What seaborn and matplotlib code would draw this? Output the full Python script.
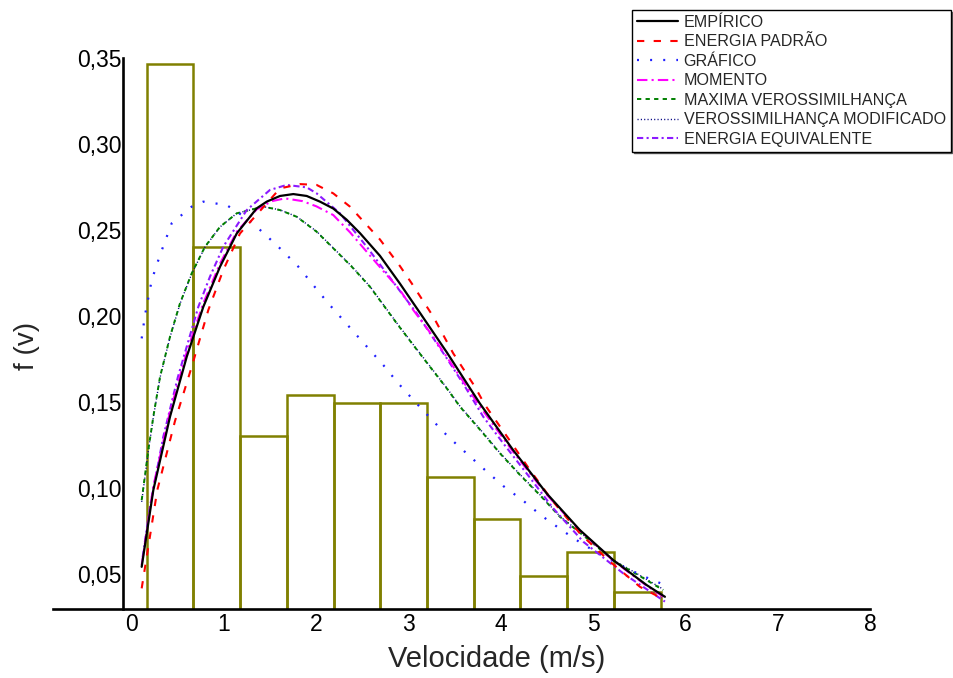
import numpy as np
import pandas as pd
import matplotlib
matplotlib.use("Agg")
import matplotlib.pyplot as plt
import seaborn as sns
from matplotlib.ticker import FixedLocator, FuncFormatter

# ---------------- data ----------------
bin_edges = [0.162, 0.668, 1.174, 1.680, 2.187, 2.693, 3.199, 3.706, 4.212, 4.718, 5.225, 5.731]
bin_heights = [0.3465, 0.2403, 0.1302, 0.1541, 0.1494, 0.1494, 0.1066, 0.0822, 0.0488, 0.0630, 0.0394]

emp_v = [0.108, 0.234, 0.415, 0.596, 0.776, 0.957, 1.138, 1.354, 1.463, 1.607, 1.751, 1.896, 2.040,
         2.184, 2.329, 2.473, 2.690, 2.907, 3.051, 3.124, 3.413, 3.772, 4.134, 4.496, 4.856, 5.218, 5.580, 5.778]
emp_f = [0.0542, 0.0988, 0.1415, 0.1763, 0.2054, 0.2287, 0.2480, 0.2626, 0.2665, 0.2698, 0.2709, 0.2698, 0.2665,
         0.2625, 0.2560, 0.2482, 0.2350, 0.2188, 0.2075, 0.2018, 0.1790, 0.1492, 0.1220, 0.0969, 0.0756, 0.0581,
         0.0436, 0.0368]

pad_v = [0.108, 0.277, 0.469, 0.650, 0.830, 0.992, 1.173, 1.463, 1.607, 1.823, 2.004, 2.184, 2.365, 2.690,
         2.907, 3.034, 3.268, 3.484, 3.719, 3.828, 4.080, 4.315, 4.568, 4.856, 5.164, 5.507, 5.778]
pad_f = [0.0417, 0.0988, 0.1390, 0.1705, 0.2035, 0.2267, 0.2480, 0.2655, 0.2742, 0.2767, 0.2762, 0.2713, 0.2636, 0.2445,
         0.2290, 0.2190, 0.1996, 0.1783, 0.1589, 0.1483, 0.1289, 0.1105, 0.0920, 0.0737, 0.0581, 0.0426, 0.0349]

graf_v = [0.108, 0.144, 0.217, 0.307, 0.433, 0.650, 0.776, 1.029, 1.246, 1.426, 1.625, 1.805, 1.967, 2.130,
          2.221, 2.480, 2.726, 2.888, 3.069, 3.250, 3.430, 3.828, 4.026, 4.243, 4.442, 4.659, 4.875, 5.092,
          5.326, 5.561, 5.778]
graf_f = [0.1870, 0.2006, 0.2209, 0.2355, 0.2539, 0.2636, 0.2665, 0.2645, 0.2568, 0.2484, 0.2384, 0.2287, 0.2180, 0.2074,
          0.2019, 0.1863, 0.1715, 0.1609, 0.1502, 0.1399, 0.1298, 0.1105, 0.1012, 0.0926, 0.0839, 0.0756, 0.0678, 0.0610,
          0.0543, 0.0484, 0.0436]

mom_v = [0.108, 0.234, 0.415, 0.596, 0.776, 0.957, 1.138, 1.354, 1.520, 1.660, 1.850, 2.000, 2.184, 2.365,
         2.546, 2.726, 2.907, 3.051, 3.232, 3.413, 3.772, 4.134, 4.496, 4.856, 5.218, 5.580, 5.778]
mom_f = [0.0553, 0.1010, 0.1445, 0.1790, 0.2075, 0.2305, 0.2490, 0.2620, 0.2668, 0.2684, 0.2668, 0.2638, 0.2587, 0.2487,
         0.2374, 0.2262, 0.2151, 0.2035, 0.1905, 0.1763, 0.1475, 0.1210, 0.0962, 0.0752, 0.0578, 0.0432, 0.0362]

mv_v = [0.108, 0.180, 0.234, 0.307, 0.415, 0.523, 0.650, 0.794, 0.957, 1.138, 1.426, 1.607, 1.788, 2.004,
        2.184, 2.384, 2.582, 2.871, 3.051, 3.232, 3.413, 3.557, 3.792, 3.990, 4.207, 4.423, 4.640, 4.911,
        5.236, 5.489, 5.759]
mv_f = [0.0930, 0.1221, 0.1415, 0.1647, 0.1880, 0.2074, 0.2248, 0.2403, 0.2519, 0.2597, 0.2636, 0.2616, 0.2577, 0.2490,
        0.2394, 0.2287, 0.2170, 0.1958, 0.1831, 0.1705, 0.1580, 0.1473, 0.1328, 0.1202, 0.1076, 0.0959, 0.0833, 0.0717,
        0.0572, 0.0494, 0.0407]

mvm_v = [0.108, 0.180, 0.234, 0.307, 0.415, 0.523, 0.650, 0.794, 0.957, 1.138, 1.426, 1.607, 1.788, 2.004,
         2.184, 2.384, 2.582, 2.871, 3.051, 3.232, 3.413, 3.557, 3.792, 3.990, 4.207, 4.423, 4.640, 4.911,
         5.236, 5.489, 5.759]
mvm_f = [0.0920, 0.1215, 0.1410, 0.1643, 0.1877, 0.2071, 0.2246, 0.2401, 0.2518, 0.2597, 0.2636, 0.2617, 0.2578, 0.2492,
         0.2396, 0.2289, 0.2172, 0.1961, 0.1834, 0.1708, 0.1583, 0.1476, 0.1331, 0.1205, 0.1079, 0.0962, 0.0836, 0.0720,
         0.0576, 0.0498, 0.0412]

eq_v = [0.119, 0.198, 0.342, 0.500, 0.722, 0.848, 0.992, 1.246, 1.498, 1.679, 1.896, 2.004, 2.257, 2.546,
        2.763, 3.088, 3.413, 3.600, 3.809, 4.026, 4.334, 4.568, 4.893, 5.326, 5.778]
eq_f = [0.0600, 0.0891, 0.1298, 0.1645, 0.2054, 0.2229, 0.2403, 0.2616, 0.2733, 0.2762, 0.2748, 0.2713, 0.2597, 0.2403,
        0.2248, 0.2016, 0.1755, 0.1600, 0.1415, 0.1260, 0.1047, 0.0882, 0.0688, 0.0504, 0.0340]

x_ticks = [0, 1, 2, 3, 4, 5, 6, 7, 8]
y_ticks = [0.05, 0.10, 0.15, 0.20, 0.25, 0.30, 0.35]

labels = ["EMPÍRICO", "ENERGIA PADRÃO", "GRÁFICO", "MOMENTO",
          "MAXIMA VEROSSIMILHANÇA", "VEROSSIMILHANÇA MODIFICADO", "ENERGIA EQUIVALENTE"]

# ---------------- style ----------------
sns.set_style("white")
plt.rcParams['font.family'] = ['Liberation Sans', 'DejaVu Sans']

W, H = 954, 678
fig = plt.figure(figsize=(W / 100, H / 100), dpi=100)
ax = fig.add_axes([53 / W, 1 - 609 / H, 817 / W, (609 - 58) / H])

# histogram
centers = [(a + b) / 2 for a, b in zip(bin_edges[:-1], bin_edges[1:])]
sns.histplot(x=centers, weights=bin_heights, bins=bin_edges, fill=False,
             color='#808000', linewidth=1.8, ax=ax, zorder=1)

series = {
    "VEROSSIMILHANÇA MODIFICADO": (mvm_v, mvm_f, '#000080', (0, (0.8, 1.6)), 1.0),
    "MAXIMA VEROSSIMILHANÇA": (mv_v, mv_f, '#008000', (0, (2.2, 2.2)), 1.4),
    "GRÁFICO": (graf_v, graf_f, '#1f1fff', (0, (0.9, 5.0)), 1.6),
    "ENERGIA EQUIVALENTE": (eq_v, eq_f, '#8c1aff', (0, (3, 1.6, 1, 1.6)), 1.5),
    "MOMENTO": (mom_v, mom_f, '#ff00ff', (0, (5, 2, 1, 2)), 1.5),
    "ENERGIA PADRÃO": (pad_v, pad_f, '#ff0000', (0, (3.5, 4.5)), 1.5),
    "EMPÍRICO": (emp_v, emp_f, '#000000', '-', 1.6),
}
handles = {}
for name, (vv, ff, col, ls, lw) in series.items():
    df = pd.DataFrame({"v": vv, "f": ff})
    sns.lineplot(data=df, x="v", y="f", color=col, linestyle=ls, linewidth=lw,
                 ax=ax, sort=False, label=name, legend=False, zorder=3)
    handles[name] = ax.get_lines()[-1]

ax.set_xlim(-0.853, 8.0)
ax.set_ylim(0.0297, 0.35)

for s in ['top', 'right']:
    ax.spines[s].set_visible(False)
ax.spines['left'].set_position(('data', -0.091))
for s in ['left', 'bottom']:
    ax.spines[s].set_color('black')
    ax.spines[s].set_linewidth(1.9)

ax.xaxis.set_major_locator(FixedLocator(x_ticks))
ax.yaxis.set_major_locator(FixedLocator(y_ticks))
ax.yaxis.set_major_formatter(FuncFormatter(lambda y, p: f"{y:.2f}".replace('.', ',')))
ax.xaxis.set_major_formatter(FuncFormatter(lambda x, p: f"{x:.0f}"))
ax.tick_params(axis='both', length=0, labelsize=16.5, colors='black')
ax.tick_params(axis='x', pad=3)
ax.tick_params(axis='y', pad=1.5)

ax.set_xlabel("Velocidade (m/s)", fontsize=21)
ax.set_ylabel("f (v)", fontsize=20)
ax.xaxis.set_label_coords(0.5435, -0.066)
ax.yaxis.set_label_coords(-0.016, 0.477)
ax.grid(False)

leg = fig.legend([handles[l] for l in labels], labels, loc='upper left',
                 bbox_to_anchor=(632 / W, 1 - 10 / H), bbox_transform=fig.transFigure,
                 frameon=True, fancybox=False, edgecolor='black', framealpha=1,
                 fontsize=11.6, handlelength=2.55, handletextpad=0.35, labelspacing=0.28,
                 borderpad=0.3, borderaxespad=0,
                 shadow={'ox': 1.2, 'oy': -1.2, 'color': '0.35', 'alpha': 1})
leg.get_frame().set_linewidth(1.0)

fig.savefig("out.png", dpi=100)
